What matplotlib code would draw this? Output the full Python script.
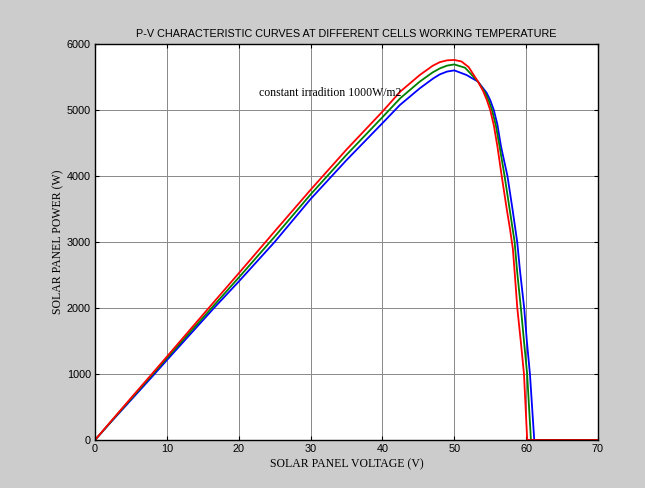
import matplotlib
matplotlib.use("Agg")
import matplotlib.pyplot as plt

# P-V curves (voltage in V, power in W)
v_red = [0, 2, 5, 8, 10, 15, 20, 25, 30, 35, 40, 42.5, 45.2, 47, 48, 49, 50, 51, 52, 53.3,
         54, 54.5, 55, 55.5, 56, 56.6, 57.3, 57.75, 58.15, 58.4, 58.77, 59.25, 59.7, 60.15, 70]
p_red = [0, 255, 635, 1010, 1262, 1895, 2525, 3160, 3790, 4400, 4975, 5280, 5530, 5670,
         5725, 5752, 5758, 5735, 5650, 5430, 5290, 5160, 5000, 4770, 4450, 4000, 3500, 3200,
         2900, 2550, 2000, 1500, 1000, 0, 0]

v_green = [0, 2, 5, 8, 10, 15, 20, 25, 30, 35, 40, 42.5, 45.2, 47, 48, 49, 50, 51.5, 53.3,
           54.3, 54.8, 55.25, 55.8, 56.3, 57, 57.7, 58.4, 58.75, 59.27, 59.7, 60.14, 60.67, 70]
p_green = [0, 250, 622, 992, 1240, 1850, 2460, 3080, 3720, 4320, 4890, 5180, 5430, 5570,
           5630, 5672, 5690, 5640, 5430, 5260, 5140, 5000, 4760, 4450, 4000, 3500, 3000,
           2550, 2000, 1500, 1000, 0, 0]

v_blue = [0, 2, 5, 8, 10, 16.56, 20, 25, 30, 35, 40, 42.44, 45.2, 47.1, 48, 49, 50, 51.7,
          53.3, 54.5, 55, 55.5, 56, 56.5, 57.4, 58.1, 58.76, 59.14, 59.73, 60.1, 60.53, 61.13, 70]
p_blue = [0, 245, 605, 965, 1210, 2000, 2400, 3000, 3650, 4240, 4800, 5076, 5328, 5480,
          5540, 5582, 5600, 5530, 5430, 5260, 5150, 5000, 4780, 4450, 4000, 3500, 3000,
          2570, 2000, 1500, 1000, 0, 0]

xticks = [0, 10, 20, 30, 40, 50, 60, 70]
yticks = [0, 1000, 2000, 3000, 4000, 5000, 6000]

fig = plt.figure(figsize=(6.45, 4.88), dpi=100, facecolor='#cccccc')
ax = fig.add_axes([0.1473, 0.0984, 0.7798, 0.8115])
ax.set_facecolor('white')

ax.plot(v_blue, p_blue, color='#0000ff', lw=1.3)
ax.plot(v_green, p_green, color='#008000', lw=1.3)
ax.plot(v_red, p_red, color='#ff0000', lw=1.3)

ax.set_xlim(0, 70)
ax.set_ylim(0, 6000)
ax.set_xticks(xticks)
ax.set_yticks(yticks)
ax.grid(True, color='#888888', lw=0.7)
ax.tick_params(direction='in', top=True, right=True, length=3, labelsize=7.8, pad=3)
for lab in ax.get_xticklabels() + ax.get_yticklabels():
    lab.set_family('Liberation Sans')
for s in ax.spines.values():
    s.set_linewidth(1.0)

ax.set_title('P-V CHARACTERISTIC CURVES AT DIFFERENT CELLS WORKING TEMPERATURE',
             fontsize=7.8, family='Liberation Sans', pad=5)
ax.set_xlabel('SOLAR PANEL VOLTAGE (V)', fontsize=8.5, family='Liberation Serif', labelpad=3)
ax.set_ylabel('SOLAR PANEL POWER (W)', fontsize=8.5, family='Liberation Serif', labelpad=2)
ax.text(22.8, 5250, 'constant irradition 1000W/m2', fontsize=8.5,
        family='Liberation Serif', ha='left', va='center')

fig.savefig('out.png', dpi=100, facecolor=fig.get_facecolor())
